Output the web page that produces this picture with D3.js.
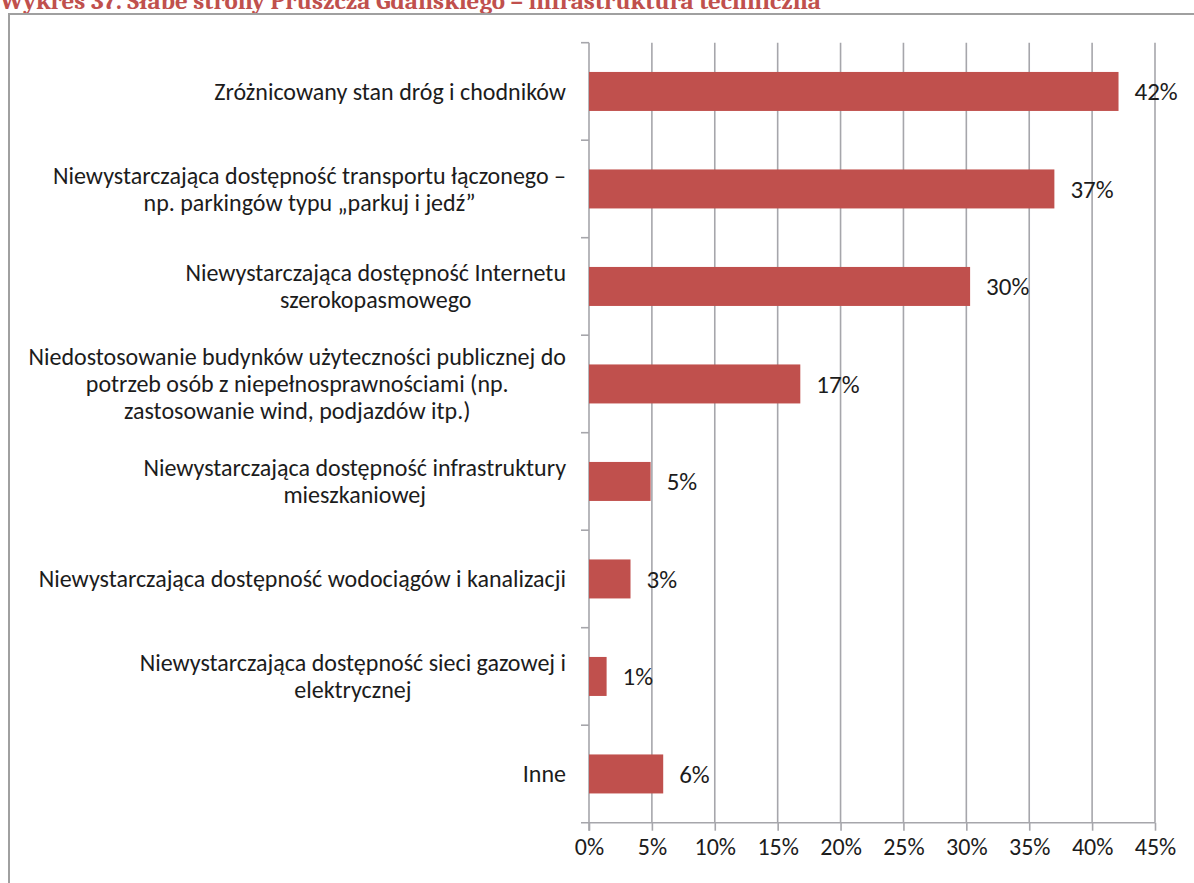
<!DOCTYPE html>
<html>
<head>
<meta charset="utf-8">
<script src="https://cdn.jsdelivr.net/npm/d3@7"></script>
<style>
  html, body { margin: 0; padding: 0; background: #ffffff; overflow: hidden; }
  svg { display: block; }
</style>
</head>
<body>
<svg id="chart" width="1194" height="883"></svg>
<script>
// Słabe strony Pruszcza Gdańskiego – infrastruktura techniczna (odsetek wskazań)
const titleText = "Wykres 37. Słabe strony Pruszcza Gdańskiego – infrastruktura techniczna";

const categories = [
  ["Zróżnicowany stan dróg i chodników"],
  ["Niewystarczająca dostępność transportu łączonego –", "np. parkingów typu „parkuj i jedź”"],
  ["Niewystarczająca dostępność Internetu", "szerokopasmowego"],
  ["Niedostosowanie budynków użyteczności publicznej do", "potrzeb osób z niepełnosprawnościami (np.", "zastosowanie wind, podjazdów itp.)"],
  ["Niewystarczająca dostępność infrastruktury", "mieszkaniowej"],
  ["Niewystarczająca dostępność wodociągów i kanalizacji"],
  ["Niewystarczająca dostępność sieci gazowej i", "elektrycznej"],
  ["Inne"]
];

const values = [0.421, 0.370, 0.303, 0.168, 0.049, 0.033, 0.014, 0.059];

const xTicks = [0, 0.05, 0.10, 0.15, 0.20, 0.25, 0.30, 0.35, 0.40, 0.45];

const barColor = "#c0504d";
const gridColor = "#a6a6ab";
const textColor = "#1c1c1c";
const fontFamily = "Carlito, Calibri, Lato, 'Open Sans', sans-serif";
const fontSize = 24;

const svg = d3.select("#chart");

// Title (partly above the page edge)
svg.append("text")
  .attr("x", 0)
  .attr("y", 9)
  .attr("fill", "#c0504d")
  .attr("font-family", "Cambria, 'Liberation Serif', 'DejaVu Serif', serif")
  .attr("font-weight", "bold")
  .attr("font-size", 25)
  .text(titleText);

// Chart frame
svg.append("rect")
  .attr("x", 9)
  .attr("y", 14)
  .attr("width", 1300)
  .attr("height", 1000)
  .attr("fill", "none")
  .attr("stroke", "#a0a0a0")
  .attr("stroke-width", 2);

const keys = categories.map((c, i) => i);

const x = d3.scaleLinear().domain([0, 0.45]).range([589, 1155]);
const y = d3.scaleBand().domain(keys).range([42.7, 822.7])
  .paddingInner(0.6).paddingOuter(0.3);

// Vertical gridlines
svg.append("g")
  .selectAll("line")
  .data(xTicks.slice(1))
  .join("line")
  .attr("x1", d => x(d)).attr("x2", d => x(d))
  .attr("y1", y.range()[0]).attr("y2", y.range()[1])
  .attr("stroke", gridColor)
  .attr("stroke-width", 1.6);

// X axis
const xAxis = svg.append("g")
  .attr("transform", `translate(0,${y.range()[1]})`)
  .call(d3.axisBottom(x).tickValues(xTicks).tickFormat(d3.format(".0%")).tickSize(8).tickPadding(7).tickSizeOuter(0));
xAxis.select(".domain").remove();
xAxis.selectAll(".tick line").attr("stroke", gridColor).attr("stroke-width", 1.6);
xAxis.selectAll(".tick text")
  .attr("fill", textColor)
  .attr("font-family", fontFamily)
  .attr("font-size", fontSize);
svg.append("line")
  .attr("x1", 581).attr("x2", x(0.45))
  .attr("y1", y.range()[1]).attr("y2", y.range()[1])
  .attr("stroke", gridColor).attr("stroke-width", 1.6);

// Y axis line and category separators
const boundaries = d3.range(keys.length + 1).map(i => y.range()[0] + i * y.step());
svg.append("line")
  .attr("x1", x(0)).attr("x2", x(0))
  .attr("y1", y.range()[0]).attr("y2", y.range()[1] + 8)
  .attr("stroke", gridColor).attr("stroke-width", 1.6);
svg.append("g")
  .selectAll("line")
  .data(boundaries.slice(0, -1))
  .join("line")
  .attr("x1", 581).attr("x2", x(0))
  .attr("y1", d => d).attr("y2", d => d)
  .attr("stroke", gridColor).attr("stroke-width", 1.6);

// Bars
svg.append("g")
  .selectAll("rect")
  .data(values)
  .join("rect")
  .attr("x", x(0))
  .attr("y", (d, i) => y(i))
  .attr("width", d => x(d) - x(0))
  .attr("height", y.bandwidth())
  .attr("fill", barColor);

// Value labels
svg.append("g")
  .selectAll("text")
  .data(values)
  .join("text")
  .attr("x", d => x(d) + 16)
  .attr("y", (d, i) => y(i) + y.bandwidth() / 2)
  .attr("dy", "0.35em")
  .attr("fill", textColor)
  .attr("font-family", fontFamily)
  .attr("font-size", 25)
  .text(d => d3.format(".0%")(d));

// Category labels: wrapped lines centred on each other, block right-aligned
const lineHeight = 27;
const labelRight = 566;
const labels = svg.append("g");
categories.forEach((lines, i) => {
  const cy = y(i) + y.bandwidth() / 2;
  const t = labels.append("text")
    .attr("fill", textColor)
    .attr("font-family", fontFamily)
    .attr("font-size", fontSize)
    .attr("text-anchor", "middle");
  const spans = lines.map((s, j) => t.append("tspan")
    .attr("y", cy + (j - (lines.length - 1) / 2) * lineHeight)
    .attr("dy", "0.35em")
    .text(s));
  const maxW = d3.max(spans, s => s.node().getComputedTextLength());
  spans.forEach(s => s.attr("x", labelRight - maxW / 2));
});
</script>
</body>
</html>
